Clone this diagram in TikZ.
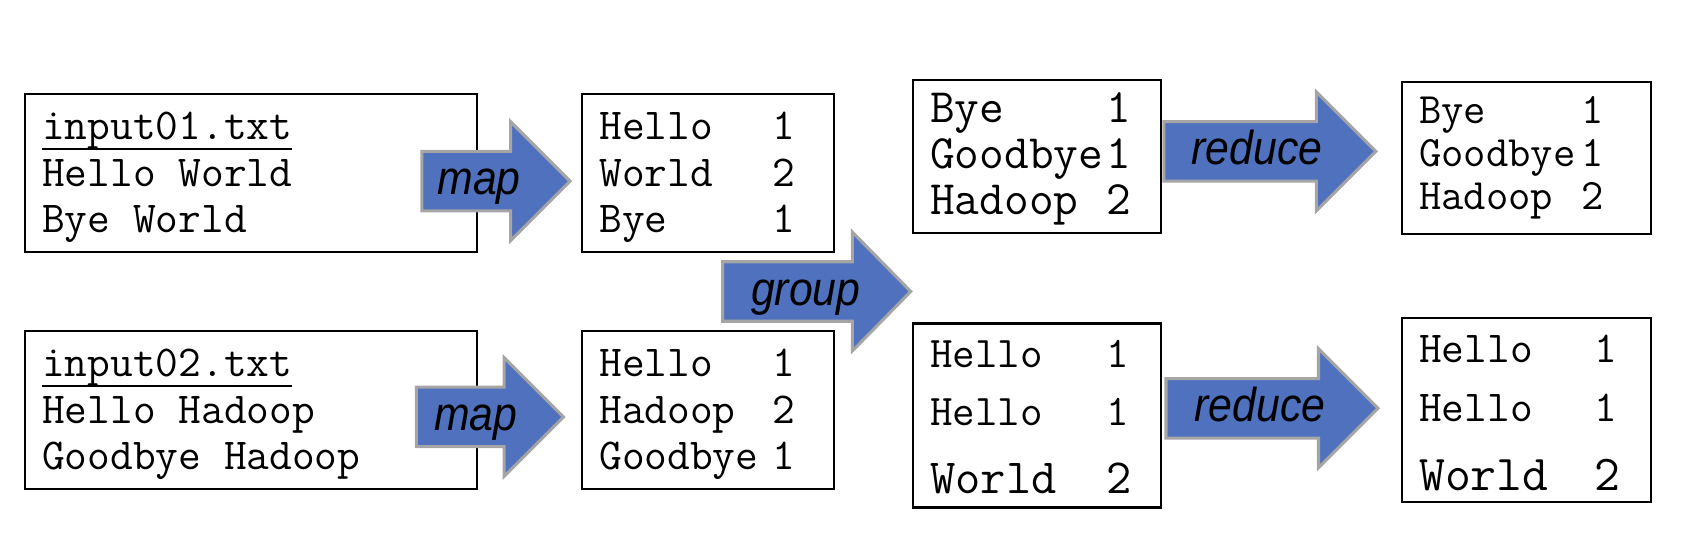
\documentclass[tikz,border=0pt]{standalone}
\usepackage{fontspec}
\newfontfamily\flowfont{Liberation Sans}

\definecolor{flowblue}{RGB}{79,113,190}
\definecolor{flowedge}{RGB}{165,165,165}

% text block of a box: height, width, first baseline, lines
\newcommand{\cell}[4]{\parbox[c][#1][t]{#2}{\rule{0pt}{#3}#4}}
% word and count in two columns
\newcommand{\pair}[3]{\makebox[#1][l]{#2}#3}
% underlined file name
\newcommand{\fname}[1]{\setbox0\hbox{#1}\rlap{\rule[-2.75pt]{\wd0}{0.55pt}}\box0}

\tikzset{
  box/.style={draw, line width=0.6pt, anchor=north west, inner xsep=0.16cm, inner ysep=0pt, font=\ttfamily},
  flow/.style={fill=flowblue, draw=flowedge, line width=0.8pt, line join=miter},
  flowlabel/.style={anchor=base, inner sep=0pt, xscale=0.9, font=\flowfont\itshape\fontsize{12.5}{14}\selectfont}
}

\begin{document}
\begin{tikzpicture}[x=0.01cm,y=-0.01cm]
    \useasboundingbox (0,0) rectangle (1568,492);

    % Input files
    \node[box] (in1) at (22,86) {\cell{1.46cm}{3.86cm}{0.42cm}{\fontsize{11.6}{0.43cm}\selectfont
      \fname{input01.txt}\\Hello World\\Bye World}};
    \node[box] (in2) at (22,305) {\cell{1.46cm}{3.86cm}{0.42cm}{\fontsize{11.6}{0.43cm}\selectfont
      \fname{input02.txt}\\Hello Hadoop\\Goodbye Hadoop}};

    % Map output
    \node[box] (map1) at (537,86) {\cell{1.46cm}{2.01cm}{0.42cm}{\fontsize{11.6}{0.43cm}\selectfont
      \pair{1.6cm}{Hello}{1}\\\pair{1.6cm}{World}{2}\\\pair{1.6cm}{Bye}{1}}};
    \node[box] (map2) at (537,305) {\cell{1.46cm}{2.01cm}{0.42cm}{\fontsize{11.6}{0.43cm}\selectfont
      \pair{1.6cm}{Hello}{1}\\\pair{1.6cm}{Hadoop}{2}\\\pair{1.6cm}{Goodbye}{1}}};

    % Grouped
    \node[box] (grp1) at (843,73) {\cell{1.41cm}{1.97cm}{0.39cm}{\fontsize{12.6}{0.425cm}\selectfont
      \pair{1.63cm}{Bye}{1}\\\pair{1.63cm}{Goodbye}{1}\\\pair{1.63cm}{Hadoop}{2}}};
    \node[box] (grp2) at (843,298) {\cell{1.70cm}{1.97cm}{0.41cm}{\fontsize{11.5}{0.53cm}\selectfont
      \pair{1.63cm}{Hello}{1}\\\pair{1.63cm}{Hello}{1}\\[0.1cm]\fontsize{12.9}{0.53cm}\selectfont\pair{1.63cm}{World}{2}}};

    % Reduce output
    \node[box] (red1) at (1295,75) {\cell{1.40cm}{1.98cm}{0.38cm}{\fontsize{11.4}{0.40cm}\selectfont
      \pair{1.5cm}{Bye}{1}\\\pair{1.5cm}{Goodbye}{1}\\\pair{1.5cm}{Hadoop}{2}}};
    \node[box] (red2) at (1295,293) {\cell{1.70cm}{1.98cm}{0.41cm}{\fontsize{11.6}{0.55cm}\selectfont
      \pair{1.62cm}{Hello}{1}\\\pair{1.62cm}{Hello}{1}\\[0.08cm]\fontsize{13.2}{0.55cm}\selectfont\pair{1.62cm}{World}{2}}};

    % Block arrows: name/tail/head base/tip/middle/label x/label
    \foreach \name/\xa/\xb/\xc/\ym/\xl/\lbl in {mapA/390/472/527/167.5/443/map,
        mapB/385/466/521/385.5/440/map, group/668/788/842/269.5/745/group,
        redA/1076/1217/1272/140/1162/reduce, redB/1078/1219/1274/377.5/1165/reduce} {
      \draw[flow] (\xa,\ym-27.5) -- (\xb,\ym-27.5) -- (\xb,\ym-55) -- (\xc,\ym)
        -- (\xb,\ym+55) -- (\xb,\ym+27.5) -- (\xa,\ym+27.5) -- cycle;
      \node[flowlabel] (\name) at (\xl,\ym+12.5) {\lbl};
    }
  \end{tikzpicture}
\end{document}
